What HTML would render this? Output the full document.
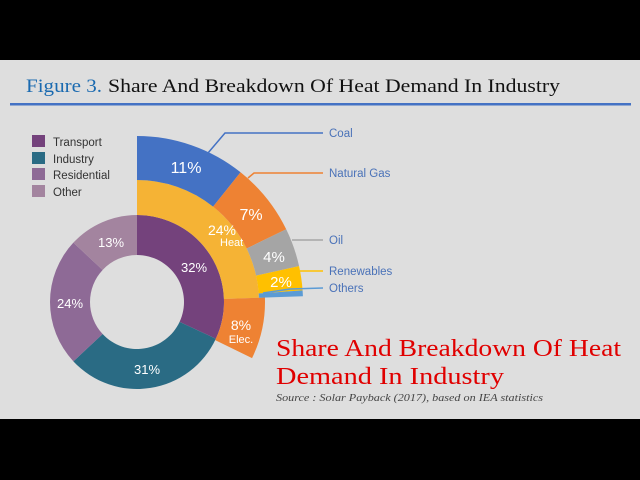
<!DOCTYPE html>
<html><head><meta charset="utf-8"><style>
html,body{margin:0;padding:0;background:#000;}
svg{display:block;}
</style></head><body>
<svg id="s" width="640" height="480" xmlns="http://www.w3.org/2000/svg">
<rect x="0" y="0" width="640" height="480" fill="#000"/>
<rect x="0" y="60" width="640" height="359" fill="#dedede"/>
<text x="26" y="92" font-family="Liberation Serif, serif" font-size="19" fill="#1a6ab0" textLength="76" lengthAdjust="spacingAndGlyphs">Figure 3.</text>
<text x="108" y="92" font-family="Liberation Serif, serif" font-size="19" fill="#111" textLength="452" lengthAdjust="spacingAndGlyphs">Share And Breakdown Of Heat Demand In Industry</text>
<rect x="10" y="103" width="621" height="2.5" fill="#4472c4"/>
<g font-family="Liberation Sans, sans-serif" font-size="11.5" fill="#333">
<rect x="32" y="135" width="13" height="12" fill="#74427c"/><text x="53" y="146">Transport</text>
<rect x="32" y="152" width="13" height="12" fill="#2a6b84"/><text x="53" y="163">Industry</text>
<rect x="32" y="168" width="13" height="12" fill="#8e6a96"/><text x="53" y="179">Residential</text>
<rect x="32" y="185" width="13" height="12" fill="#a3849f"/><text x="53" y="196">Other</text>
</g>
<g id="arcs"></g>
<g fill="none" stroke-width="1.5">
<polyline points="208,153 225,133 323,133" stroke="#4472c4"/>
<polyline points="248,178 254,173 323,173" stroke="#ee8233"/>
<polyline points="292,240 323,240" stroke="#a5a5a5"/>
<polyline points="300,271 323,271" stroke="#ffc000"/>
<polyline points="263,293 290,289 323,288" stroke="#5b9bd5"/>
</g>
<g font-family="Liberation Sans, sans-serif" font-size="11.5" fill="#4a72b8">
<text x="329" y="137">Coal</text>
<text x="329" y="177">Natural Gas</text>
<text x="329" y="244">Oil</text>
<text x="329" y="275">Renewables</text>
<text x="329" y="292">Others</text>
</g>
<g font-family="Liberation Sans, sans-serif" fill="#fff" text-anchor="middle">
<text x="194" y="272" font-size="13">32%</text>
<text x="147" y="374" font-size="13">31%</text>
<text x="70" y="308" font-size="13">24%</text>
<text x="111" y="247" font-size="13">13%</text>
<text x="186" y="173" font-size="16">11%</text>
<text x="222" y="235" font-size="14">24%</text>
<text x="220" y="246" font-size="11" text-anchor="start">Heat</text>
<text x="251" y="220" font-size="16">7%</text>
<text x="274" y="262" font-size="15">4%</text>
<text x="281" y="287" font-size="15">2%</text>
<text x="241" y="330" font-size="14">8%</text>
<text x="241" y="343" font-size="11">Elec.</text>
</g>
<g font-family="Liberation Serif, serif" fill="#e00000" font-size="24">
<text x="276" y="356" textLength="345" lengthAdjust="spacingAndGlyphs">Share And Breakdown Of Heat</text>
<text x="276" y="384" textLength="228" lengthAdjust="spacingAndGlyphs">Demand In Industry</text>
</g>
<text x="276" y="401" font-family="Liberation Serif, serif" font-style="italic" font-size="10.5" fill="#444" textLength="267" lengthAdjust="spacingAndGlyphs">Source : Solar Payback (2017), based on IEA statistics</text>
</svg>
<script>
(function(){
var cx=137,cy=302,g=document.getElementById('arcs');
function pt(r,a){a=a*Math.PI/180;return [cx+r*Math.sin(a),cy-r*Math.cos(a)];}
function seg(r0,r1,a0,a1,c){
var p1=pt(r1,a0),p2=pt(r1,a1),p3=pt(r0,a1),p4=pt(r0,a0),l=(a1-a0)>180?1:0;
var d='M'+p1+' A'+r1+','+r1+' 0 '+l+' 1 '+p2+' L'+p3+' A'+r0+','+r0+' 0 '+l+' 0 '+p4+'Z';
var e=document.createElementNS('http://www.w3.org/2000/svg','path');
e.setAttribute('d',d);e.setAttribute('fill',c);g.appendChild(e);}
seg(47,87,0,115,'#74427c');seg(47,87,115,227,'#2a6b84');seg(47,87,227,313,'#8e6a96');seg(47,87,313,360,'#a3849f');
seg(87,122,0,88,'#f5b335');seg(87,128,88,116,'#ee8233');
seg(122,166,0,38.6,'#4472c4');seg(122,166,38.6,64,'#ee8233');seg(122,166,64,77.5,'#a5a5a5');seg(122,166,77.5,86,'#ffc000');seg(122,166,86,88,'#5b9bd5');
})();
</script>
</body></html>
